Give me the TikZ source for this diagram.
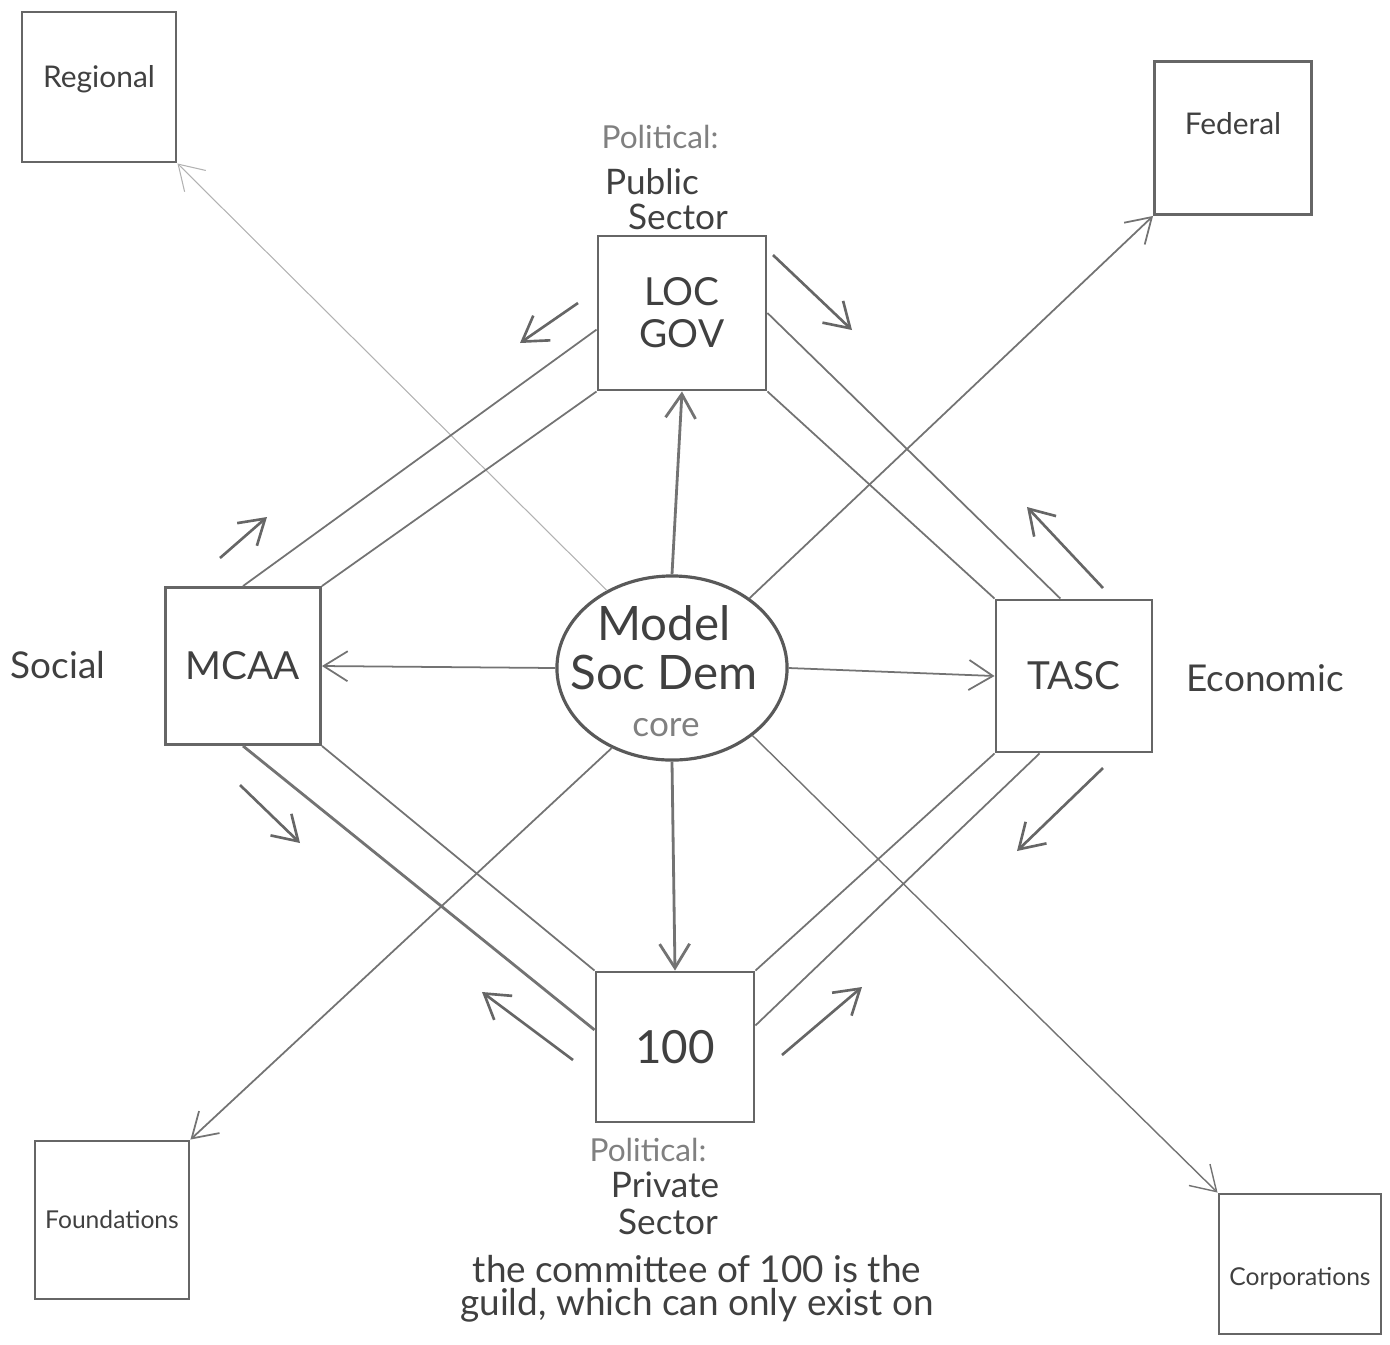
\documentclass[tikz,border=0pt]{standalone}
\usepackage{fontspec}
\setmainfont{Lato}
\usetikzlibrary{arrows.meta,positioning,shapes.geometric}

\begin{document}
\begin{tikzpicture}[x=0.01cm, y=-0.01cm,
    >={Straight Barb[length=2.4mm,width=3mm]},
    box/.style={draw=black!60, line width=0.8pt, inner sep=0pt, text=black!75},
    link/.style={draw=black!55, line width=0.5pt},
    flow/.style={draw=black!60, line width=0.75pt, ->},
    word/.style={inner sep=0pt, text=black!75},
    faint/.style={inner sep=0pt, text=black!50}]

    \useasboundingbox (0,0) rectangle (1390,1344);

    % core
    \node[ellipse, draw=black!65, line width=0.9pt, minimum width=2.3cm, minimum height=1.84cm] (core) at (672,668) {};
    \node[word, align=center, font=\fontsize{13.5}{14}\selectfont] (coretext) at (664,648) {Model\\Soc Dem};
    \node[faint, font=\fontsize{10}{10}\selectfont] (corelabel) at (666,728) {core};

    % inner ring
    \node[box, minimum width=1.68cm, minimum height=1.54cm, align=center, font=\fontsize{11}{12}\selectfont] (locgov) at (682,313) {LOC\\GOV};
    \node[box, minimum width=1.55cm, minimum height=1.57cm, font=\fontsize{11}{11}\selectfont] (mcaa) at (243,666) {MCAA};
    \node[box, minimum width=1.56cm, minimum height=1.52cm, font=\fontsize{11}{11}\selectfont] (tasc) at (1074,676) {TASC};
    \node[box, minimum width=1.58cm, minimum height=1.50cm, font=\fontsize{13}{13}\selectfont] (hundred) at (675,1047) {100};

    % outer corners
    \node[box, minimum width=1.54cm, minimum height=1.50cm] (regional) at (99,87) {};
    \node[word, font=\fontsize{8.5}{8.5}\selectfont, below=0.54cm of regional.north] (regionaltxt) {Regional};
    \node[box, minimum width=1.57cm, minimum height=1.53cm] (federal) at (1233,138) {};
    \node[word, font=\fontsize{8.5}{8.5}\selectfont, below=0.52cm of federal.north] (federaltxt) {Federal};
    \node[box, minimum width=1.54cm, minimum height=1.58cm, font=\fontsize{7}{7}\selectfont] (found) at (112,1220) {Foundations};
    \node[box, minimum width=1.62cm, minimum height=1.40cm] (corp) at (1300,1264) {};
    \node[word, font=\fontsize{7}{7}\selectfont, above=0.45cm of corp.south] (corptxt) {Corporations};

    % sector labels
    \node[faint, font=\fontsize{9}{9}\selectfont] (poltop) at (660,137) {Political:};
    \node[word, font=\fontsize{10}{10}\selectfont] (public) at (652,182) {Public};
    \node[word, font=\fontsize{10}{10}\selectfont] (sectop) at (678,217) {Sector};
    \node[faint, font=\fontsize{9}{9}\selectfont] (polbot) at (648,1150) {Political:};
    \node[word, font=\fontsize{10}{10}\selectfont] (private) at (665,1185) {Private};
    \node[word, font=\fontsize{10}{10}\selectfont] (secbot) at (668,1222) {Sector};
    \node[word, font=\fontsize{10.5}{10.5}\selectfont] (social) at (58,665) {Social};
    \node[word, font=\fontsize{10.5}{10.5}\selectfont] (economic) at (1265,678) {Economic};
    \node[word, align=center, font=\fontsize{10.5}{9.3}\selectfont] (note) at (697,1289) {the committee of 100 is the\\guild, which can only exist on};

    % core to ring
    \draw[link, ->, line width=0.8pt] (core.north) -- (locgov.south);
    \draw[link, ->] (core.west) -- (mcaa.east);
    \draw[link, ->] (core.east) -- (tasc.west);
    \draw[link, ->, line width=0.8pt] (core.south) -- (hundred.north);

    % core to corners
    \draw[link, ->] (core.42) -- (federal.south west);
    \draw[link, ->] (core.233) -- (found.north east);
    \draw[link, ->, line width=0.4pt] (core.-40) -- (corp.north west);
    \draw[link, ->, draw=black!30, line width=0.3pt] (core.130) -- (regional.south east);

    % ring sides
    \draw[link] (mcaa.north) -- (locgov.191);
    \draw[link] (mcaa.north east) -- (locgov.south west);
    \draw[link] (locgov.east) -- (tasc.100);
    \draw[link] (locgov.south east) -- (tasc.north west);
    \draw[link] (tasc.246) -- (hundred.15);
    \draw[link] (tasc.south west) -- (hundred.north east);
    \draw[link, line width=0.8pt] (hundred.168) -- (mcaa.south);
    \draw[link] (hundred.north west) -- (mcaa.south east);

    % flow arrows
    \coordinate (f1s) at (578,303); \coordinate (f1e) at (520,343);
    \coordinate (f2s) at (773,255); \coordinate (f2e) at (852,330);
    \coordinate (f3s) at (1103,588); \coordinate (f3e) at (1027,507);
    \coordinate (f4s) at (1103,768); \coordinate (f4e) at (1017,851);
    \coordinate (f5s) at (782,1055); \coordinate (f5e) at (862,987);
    \coordinate (f6s) at (573,1060); \coordinate (f6e) at (482,992);
    \coordinate (f7s) at (240,785); \coordinate (f7e) at (300,843);
    \coordinate (f8s) at (220,558); \coordinate (f8e) at (267,517);
    \foreach \i in {1,...,8} {
        \draw[flow] (f\i s) -- (f\i e);
    }
\end{tikzpicture}
\end{document}
